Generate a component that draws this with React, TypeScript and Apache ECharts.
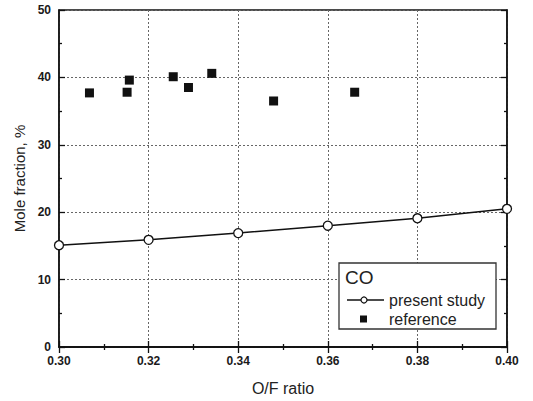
import React, { useEffect, useRef } from "react";
import * as echarts from "echarts";

const studyX = [0.30, 0.32, 0.34, 0.36, 0.38, 0.40];
const studyY = [15.1, 15.9, 16.9, 18.0, 19.1, 20.5];
const refX = [0.3068, 0.3152, 0.3157, 0.3255, 0.3289, 0.3341, 0.3479, 0.3660];
const refY = [37.7, 37.8, 39.6, 40.1, 38.5, 40.6, 36.5, 37.8];
const legendTitle = "CO";
const seriesNames = ["present study", "reference"];
const xTitle = "O/F ratio";
const yTitle = "Mole fraction, %";

const FONT = "Liberation Sans, Arial, sans-serif";

export default function App() {
  const ref = useRef<HTMLDivElement>(null);
  useEffect(() => {
    if (!ref.current) return;
    const chart = echarts.init(ref.current, undefined, { renderer: "svg" });
    const axisLine = { show: true, lineStyle: { color: "#111", width: 1.5 } };
    const tick = { show: true, inside: true, length: 6, lineStyle: { color: "#111", width: 1.3 } };
    const minorTick = { show: true, splitNumber: 2, length: 3, lineStyle: { color: "#111", width: 1.3 } };
    const split = { show: true, lineStyle: { color: "#666", type: [2, 2], width: 1 } };
    const label = { color: "#1a1a1a", fontFamily: FONT, fontWeight: "bold", fontSize: 12, margin: 8 };
    chart.setOption({
      animation: false,
      backgroundColor: "#fff",
      grid: { left: 59, right: 26, top: 10, bottom: 51, show: true, borderColor: "#111", borderWidth: 1.5 },
      xAxis: [
        {
          type: "value", min: 0.3, max: 0.4, interval: 0.02, position: "bottom",
          axisLine, axisTick: tick, minorTick, splitLine: split,
          axisLabel: { ...label, formatter: (v: number) => v.toFixed(2) },
          name: xTitle, nameLocation: "middle", nameGap: 33,
          nameTextStyle: { color: "#222", fontFamily: FONT, fontSize: 16 },
        },
        {
          type: "value", min: 0.3, max: 0.4, interval: 0.02, position: "top",
          axisLine, axisTick: tick, minorTick, splitLine: { show: false }, axisLabel: { show: false },
        },
      ],
      yAxis: [
        {
          type: "value", min: 0, max: 50, interval: 10, position: "left",
          axisLine, axisTick: tick, minorTick, splitLine: split,
          axisLabel: label,
          name: yTitle, nameLocation: "middle", nameGap: 32,
          nameTextStyle: { color: "#222", fontFamily: FONT, fontSize: 15 },
        },
        {
          type: "value", min: 0, max: 50, interval: 10, position: "right",
          axisLine, axisTick: tick, minorTick, splitLine: { show: false }, axisLabel: { show: false },
        },
      ],
      series: [
        {
          name: seriesNames[0], type: "line",
          data: studyX.map((x, i) => [x, studyY[i]]),
          symbol: "circle", symbolSize: 9, showSymbol: true,
          lineStyle: { color: "#111", width: 1.5 },
          itemStyle: { color: "#fff", borderColor: "#111", borderWidth: 1.3 },
          z: 3,
        },
        {
          name: seriesNames[1], type: "scatter",
          data: refX.map((x, i) => [x, refY[i]]),
          symbol: "rect", symbolSize: 9,
          itemStyle: { color: "#111", opacity: 1 },
          z: 4,
        },
      ],
      graphic: [
        {
          type: "rect", shape: { x: 339, y: 263, width: 157, height: 66 },
          style: { fill: "#fff", stroke: "#333", lineWidth: 1.3 }, z: 10,
        },
        {
          type: "text", x: 345, y: 277,
          style: { text: legendTitle, fontFamily: FONT, fontSize: 19, fill: "#222", verticalAlign: "middle" }, z: 11,
        },
        {
          type: "line", shape: { x1: 347, y1: 300, x2: 384, y2: 300 },
          style: { stroke: "#111", lineWidth: 1.5 }, z: 11,
        },
        {
          type: "circle", shape: { cx: 364, cy: 300, r: 3 },
          style: { fill: "#fff", stroke: "#111", lineWidth: 1.2 }, z: 12,
        },
        {
          type: "text", x: 389, y: 300,
          style: { text: seriesNames[0], fontFamily: FONT, fontSize: 16, fill: "#222", verticalAlign: "middle" }, z: 11,
        },
        {
          type: "rect", shape: { x: 360, y: 315.5, width: 7, height: 7 },
          style: { fill: "#111" }, z: 11,
        },
        {
          type: "text", x: 389, y: 319,
          style: { text: seriesNames[1], fontFamily: FONT, fontSize: 16, fill: "#222", verticalAlign: "middle" }, z: 11,
        },
      ],
    });
    return () => chart.dispose();
  }, []);
  return <div ref={ref} style={{ position: "fixed", left: 0, top: 0, width: 533, height: 401 }} />;
}
